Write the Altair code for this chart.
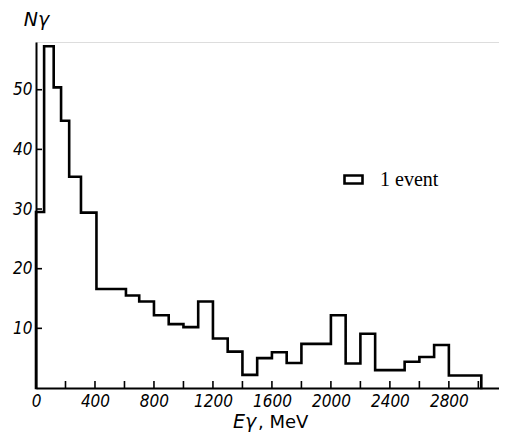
import altair as alt
import pandas as pd

# Bin edges (MeV) and photon counts
EDGES = [0, 55, 120, 170, 225, 305, 410, 610, 700, 800, 900, 1000, 1100, 1200,
         1300, 1400, 1500, 1600, 1700, 1800, 2000, 2100, 2200, 2300, 2500, 2600,
         2700, 2800, 3020]
COUNTS = [29.5, 57.3, 50.4, 44.8, 35.4, 29.4, 16.6, 15.5, 14.5, 12.2, 10.7, 10.2,
          14.5, 8.3, 6.1, 2.2, 5.0, 6.0, 4.2, 7.4, 12.2, 4.1, 9.1, 3.0, 4.4, 5.2,
          7.2, 2.1]
X_LABELS = [0, 400, 800, 1200, 1600, 2000, 2400, 2800]
X_TICKS = [200, 400, 600, 800, 1000, 1200, 1400, 1600, 1800, 2000, 2200, 2400,
           2600, 2800, 3000]
Y_TICKS = [10, 20, 30, 40, 50]
SERIES = "1 event"

W, H = 463, 346
XMAX, YMAX = 3140, 58
NUMFONT = "DejaVu Sans Condensed"

xs = [0] + EDGES
ys = [0] + COUNTS + [0]
step_df = pd.DataFrame({"i": range(len(xs)), "E": xs, "N": ys, "s": SERIES})

xscale = alt.Scale(domain=[0, XMAX], nice=False, zero=False)
yscale = alt.Scale(domain=[0, YMAX], nice=False)

step = alt.Chart(step_df).mark_line(
    interpolate="step-after", strokeWidth=2.6, strokeJoin="miter", strokeCap="square"
).encode(
    x=alt.X("E:Q", scale=xscale,
            axis=alt.Axis(values=X_LABELS, format="d", title=None, grid=False,
                          tickSize=0, domainWidth=2, domainColor="black",
                          labelFont=NUMFONT, labelFontStyle="italic",
                          labelFontSize=17, labelColor="black", labelPadding=5,
                          labelFlush=False)),
    y=alt.Y("N:Q", scale=yscale,
            axis=alt.Axis(values=Y_TICKS, format="d", title="Nγ", grid=False,
                          tickSize=0, domainWidth=2, domainColor="black",
                          labelFont=NUMFONT, labelFontStyle="italic",
                          labelFontSize=17, labelColor="black", labelPadding=4,
                          titleAngle=0, titleX=0, titleY=-17, titleAlign="center",
                          titleBaseline="alphabetic", titleFont="DejaVu Sans",
                          titleFontStyle="italic", titleFontWeight="normal",
                          titleFontSize=19, titleColor="black")),
    order=alt.Order("i:Q"),
    color=alt.Color("s:N", scale=alt.Scale(domain=[SERIES], range=["black"]),
                    legend=alt.Legend(title=None, orient="none", legendX=307,
                                      legendY=127, padding=0,
                                      symbolType="M-1,-0.45L1,-0.45L1,0.45L-1,0.45Z",
                                      symbolSize=324, symbolStrokeWidth=2.6,
                                      symbolFillColor="white",
                                      symbolStrokeColor="black",
                                      labelFont="Liberation Serif",
                                      labelFontSize=20, labelColor="black",
                                      labelOffset=16)),
)

xt_df = pd.DataFrame({"E": X_TICKS})
xticks = alt.Chart(xt_df).mark_rule(color="black", strokeWidth=1.6).encode(
    x=alt.X("E:Q", scale=xscale), y=alt.value(H), y2=alt.value(H - 7)
)
yt_df = pd.DataFrame({"N": Y_TICKS})
yticks = alt.Chart(yt_df).mark_rule(color="black", strokeWidth=1.6).encode(
    y=alt.Y("N:Q", scale=yscale), x=alt.value(0), x2=alt.value(6)
)

t1 = alt.Chart(pd.DataFrame({"t": ["Eγ"]})).mark_text(
    font="DejaVu Sans", fontSize=19, fontStyle="italic",
    align="left", baseline="alphabetic", color="black"
).encode(text="t:N", x=alt.value(197), y=alt.value(386))
t2 = alt.Chart(pd.DataFrame({"t": [", MeV"]})).mark_text(
    font="DejaVu Sans", fontSize=18, align="left", baseline="alphabetic",
    color="black"
).encode(text="t:N", x=alt.value(222), y=alt.value(386))

chart = alt.layer(step, xticks, yticks, t1, t2).properties(
    width=W, height=H,
    autosize=alt.AutoSizeParams(type="none"),
    padding={"left": 28, "top": 34, "right": 0, "bottom": 45},
).configure_view(stroke=None).configure(background="white")

chart.save("out.html", embed_options={"renderer": "svg", "actions": False})
